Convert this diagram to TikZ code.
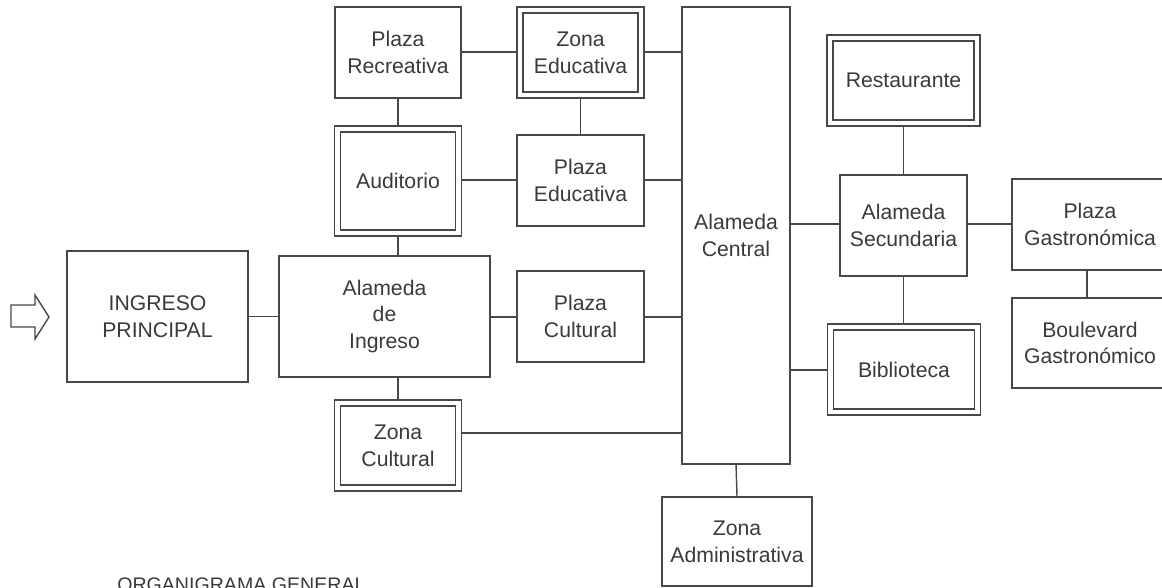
\documentclass[tikz,border=0pt]{standalone}
\usepackage{fontspec}
\setmainfont{Liberation Sans}
\usetikzlibrary{backgrounds}
\definecolor{ln}{RGB}{72,72,72}
\definecolor{tx}{RGB}{58,58,58}
\begin{document}
\begin{tikzpicture}[x=0.75pt,y=-0.75pt,
  box/.style n args={2}{draw=ln, line width=1.05pt, fill=white, inner sep=0pt,
    align=center, text=tx, font=\fontsize{15.9}{20}\selectfont,
    minimum width=#1*0.75pt, minimum height=#2*0.75pt},
  dbox/.style n args={2}{box={#1}{#2}, double=white, double distance=3.4pt},
  conn/.style={draw=ln, line width=1.05pt}]
\useasboundingbox (0,0) rectangle (1162,588);

\node[box={181}{131}] (ingreso) at (157.5,316.5) {INGRESO\\PRINCIPAL};
\node[box={211}{121}] (alamedaI) at (384.5,316.5) {Alameda\\de\\Ingreso};
\node[box={126}{91}] (plazaRec) at (398,52.5) {Plaza\\Recreativa};
\node[dbox={121}{85}] (zonaEdu) at (580.5,52.5) {Zona\\Educativa};
\node[dbox={121}{104}] (auditorio) at (398,181) {Auditorio};
\node[box={127}{91}] (plazaEdu) at (580.5,180.5) {Plaza\\Educativa};
\node[box={127}{91}] (plazaCul) at (580.5,316.5) {Plaza\\Cultural};
\node[dbox={121}{85}] (zonaCul) at (398,445.5) {Zona\\Cultural};
\node[box={108}{457}] (central) at (736,235.5) {Alameda\\Central};
\node[box={150}{89}] (zonaAdm) at (737,541.5) {Zona\\Administrativa};
\node[dbox={147}{85}] (restaurante) at (903.5,80.5) {Restaurante};
\node[box={127}{101}] (secundaria) at (903.5,225.5) {Alameda\\Secundaria};
\node[dbox={147}{85}] (biblioteca) at (904,369.5) {Biblioteca};
\node[box={156}{91}] (plazaGas) at (1090,224.5) {Plaza\\Gastronómica};
\node[box={156}{90}] (boulevard) at (1090,343) {Boulevard\\Gastronómico};

\node[anchor=base west, inner sep=0pt, text=tx, font=\fontsize{14.7}{17}\selectfont] (titulo) at (117,591) {ORGANIGRAMA GENERAL};

\draw[conn, fill=white, line join=miter] (11,305) -- (35,305) -- (35,295) -- (49,317) -- (35,339) -- (35,327) -- (11,327) -- cycle;

\begin{scope}[on background layer]
\draw[conn] (ingreso.east) -- (ingreso.east -| alamedaI.west);
\draw[conn] (plazaRec.east |- 0,52) -- (central.west |- 0,52);
\draw[conn] (plazaRec.south) -- (auditorio.north);
\draw[conn] (zonaEdu.south) -- (plazaEdu.north);
\draw[conn] (auditorio.east |- 0,180) -- (central.west |- 0,180);
\draw[conn] (auditorio.south) -- (auditorio.south |- alamedaI.north);
\draw[conn] (alamedaI.east |- 0,317) -- (central.west |- 0,317);
\draw[conn] (zonaCul.north) -- (zonaCul.north |- alamedaI.south);
\draw[conn] (zonaCul.east |- 0,433) -- (central.west |- 0,433);
\draw[conn] (central.south |- 0,464) -- (zonaAdm.north);
\draw[conn] (central.east |- 0,224) -- (plazaGas.west |- 0,224);
\draw[conn] (restaurante.south) -- (secundaria.north);
\draw[conn] (secundaria.south) -- (secundaria.south |- biblioteca.north);
\draw[conn] (central.east |- 0,370) -- (biblioteca.west |- 0,370);
\draw[conn] (plazaGas.south -| 1087,0) -- (boulevard.north -| 1087,0);
\end{scope}
\end{tikzpicture}
\end{document}
